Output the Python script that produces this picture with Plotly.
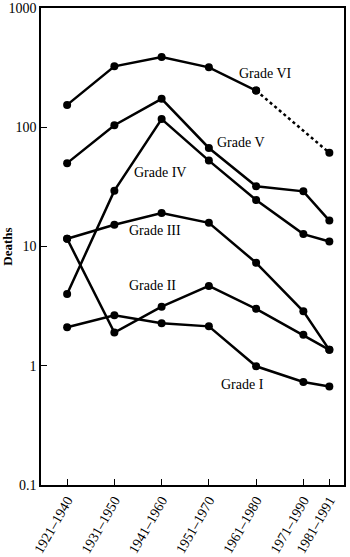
import math
import plotly.graph_objects as go

periods = ["1921–1940", "1931–1950", "1941–1960", "1951–1970", "1961–1980", "1971–1990", "1981–1991"]
midpoints = [1930.5, 1940.5, 1950.5, 1960.5, 1970.5, 1980.5, 1986.0]

grade6 = [154, 324, 388, 318, 203, None, 61]
grade5 = [50, 104, 173, 67, 32, 29, 16.5]
grade4 = [4.0, 29.4, 117, 52.5, 24.5, 12.7, 11.0]
grade3 = [11.6, 15.2, 19.1, 15.8, 7.3, 2.86, 1.36]
grade2 = [11.6, 1.9, 3.13, 4.67, 3.0, 1.82, 1.36]
grade1 = [2.1, 2.65, 2.27, 2.14, 0.99, 0.73, 0.67]

labels = ["Grade VI", "Grade V", "Grade IV", "Grade III", "Grade II", "Grade I"]
label_x = [1972.4, 1967.2, 1950.2, 1949.0, 1948.5, 1967.6]
label_y = [280, 74, 42, 13.5, 4.75, 0.69]

tickvals_y = [0.1, 1, 10, 100, 1000]
ticktext_y = ["0.1", "1", "10", "100", "1000"]

serif = "Liberation Serif"
line_style = dict(color="black", width=2.5)
marker_style = dict(color="black", size=8)

fig = go.Figure()

# Grade VI: solid part, then dotted bridge over the missing period
xs6 = [x for x, v in zip(midpoints, grade6) if v is not None]
ys6 = [v for v in grade6 if v is not None]
fig.add_trace(go.Scatter(x=xs6[:-1], y=ys6[:-1], mode="lines+markers",
                         line=line_style, marker=marker_style, showlegend=False))
fig.add_trace(go.Scatter(x=xs6[-2:], y=ys6[-2:], mode="lines+markers",
                         line=dict(color="black", width=2.5, dash="dot"),
                         marker=marker_style, showlegend=False))

for series in [grade5, grade4, grade3, grade2, grade1]:
    fig.add_trace(go.Scatter(x=midpoints, y=series, mode="lines+markers",
                             line=line_style, marker=marker_style, showlegend=False))

for t, lx, ly in zip(labels, label_x, label_y):
    fig.add_annotation(x=lx, y=math.log10(ly), yref="y", xref="x", text=t, showarrow=False,
                       font=dict(family=serif, size=14, color="black"))

fig.update_xaxes(range=[1924.97, 1989.1], tickmode="array", tickvals=midpoints,
                 ticktext=periods, tickangle=-60, ticks="inside", ticklen=6,
                 tickcolor="black", tickwidth=1.2, showline=True, linecolor="black",
                 linewidth=1.5, mirror=True, showgrid=False, zeroline=False,
                 automargin=False,
                 tickfont=dict(family=serif, size=14, color="black"))
fig.update_yaxes(type="log", range=[-1, 3], tickmode="array", tickvals=tickvals_y,
                 ticktext=ticktext_y, ticks="inside", ticklen=6, tickcolor="black",
                 tickwidth=1.2, showline=True, linecolor="black", linewidth=1.5,
                 mirror=True, showgrid=False, zeroline=False, automargin=False,
                 tickfont=dict(family=serif, size=14, color="black"),
                 title=dict(text="<b>Deaths</b>", standoff=4,
                            font=dict(family=serif, size=13, color="black")))

fig.update_layout(width=350, height=557, margin=dict(l=41, r=6, t=8, b=72),
                  paper_bgcolor="white", plot_bgcolor="white",
                  font=dict(family=serif, color="black"))

fig.write_html("out.html")
